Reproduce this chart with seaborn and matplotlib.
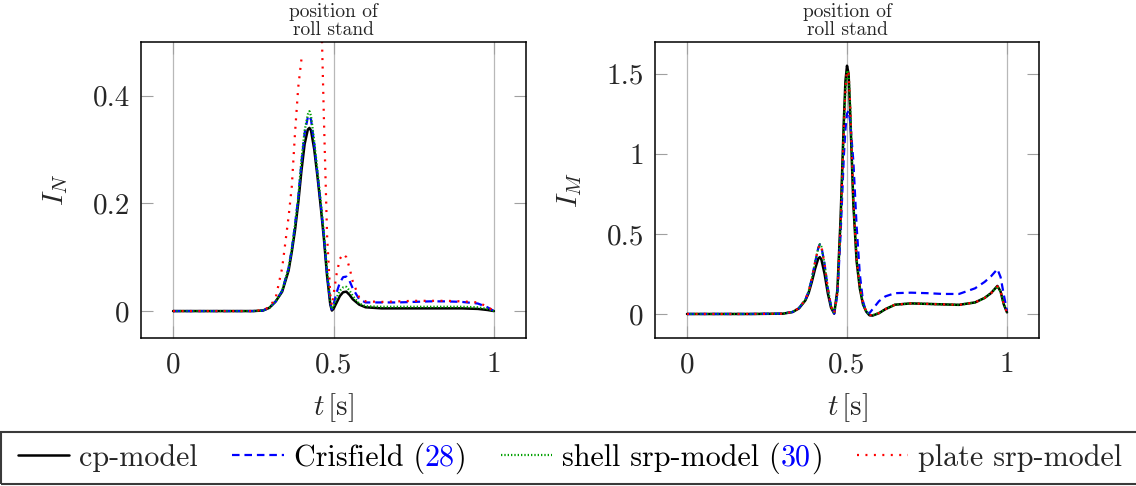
import numpy as np
import pandas as pd
import matplotlib
matplotlib.use("Agg")
import matplotlib.pyplot as plt
from matplotlib.lines import Line2D
from matplotlib.patches import Rectangle
import seaborn as sns

# ---------------- data ----------------
nan = np.nan
t_N = [0.00, 0.10, 0.20, 0.25, 0.28, 0.30, 0.32, 0.34, 0.36, 0.37, 0.38, 0.39, 0.40,
       0.41, 0.42, 0.425, 0.43, 0.44, 0.45, 0.46, 0.47, 0.48, 0.49, 0.495, 0.50, 0.51,
       0.52, 0.53, 0.54, 0.55, 0.56, 0.58, 0.60, 0.65, 0.70, 0.75, 0.80, 0.85, 0.90,
       0.95, 0.98, 1.00]
cp_N = [0, 0, 0, 0, 0.001, 0.006, 0.018, 0.036, 0.075, 0.11, 0.15, 0.20, 0.26,
        0.31, 0.337, 0.34, 0.335, 0.30, 0.25, 0.195, 0.135, 0.065, 0.012, 0.001, 0.004, 0.016,
        0.028, 0.035, 0.036, 0.030, 0.022, 0.012, 0.007, 0.005, 0.005, 0.005, 0.005, 0.005, 0.005,
        0.004, 0.002, 0.0]
cris_N = [0, 0, 0, 0, 0.001, 0.006, 0.018, 0.038, 0.08, 0.115, 0.16, 0.21, 0.275,
          0.33, 0.36, 0.363, 0.355, 0.31, 0.255, 0.20, 0.14, 0.07, 0.015, 0.003, 0.012, 0.035,
          0.053, 0.063, 0.064, 0.056, 0.042, 0.022, 0.016, 0.016, 0.016, 0.017, 0.018, 0.018, 0.017,
          0.014, 0.007, 0.0]
shell_N = [0, 0, 0, 0, 0.001, 0.006, 0.018, 0.038, 0.08, 0.115, 0.16, 0.21, 0.28,
           0.335, 0.365, 0.371, 0.362, 0.315, 0.26, 0.205, 0.145, 0.075, 0.018, 0.004, 0.008, 0.025,
           0.038, 0.044, 0.045, 0.038, 0.028, 0.014, 0.009, 0.008, 0.008, 0.008, 0.008, 0.008, 0.008,
           0.007, 0.004, 0.0]
plate_N = [0, 0, 0, 0, 0.002, 0.007, 0.025, 0.08, 0.175, 0.231, 0.33, 0.415, 0.467,
           nan, nan, nan, nan, nan, nan, 0.60, 0.36, 0.14, 0.03, 0.01, 0.03, 0.07,
           0.097, 0.106, 0.10, 0.08, 0.055, 0.025, 0.018, 0.017, 0.018, 0.019, 0.019, 0.019, 0.018,
           0.016, 0.008, 0.0]

t_M = [0.00, 0.10, 0.20, 0.30, 0.33, 0.35, 0.37, 0.38, 0.39, 0.40, 0.41, 0.415, 0.42,
       0.43, 0.44, 0.45, 0.46, 0.47, 0.48, 0.49, 0.495, 0.50, 0.505, 0.51, 0.52, 0.53,
       0.54, 0.55, 0.56, 0.57, 0.58, 0.60, 0.62, 0.65, 0.70, 0.75, 0.80, 0.85, 0.90,
       0.93, 0.95, 0.97, 0.98, 0.99, 1.00]
cp_M = [0, 0, 0, 0.002, 0.012, 0.035, 0.085, 0.13, 0.20, 0.28, 0.345, 0.355, 0.34,
        0.25, 0.13, 0.04, 0.002, 0.15, 0.60, 1.20, 1.45, 1.55, 1.50, 1.25, 0.68, 0.33,
        0.16, 0.06, 0.015, -0.008, -0.01, 0.005, 0.03, 0.058, 0.066, 0.063, 0.060, 0.057, 0.072,
        0.10, 0.13, 0.175, 0.14, 0.06, 0.01]
cris_M = [0, 0, 0, 0.002, 0.013, 0.037, 0.09, 0.14, 0.22, 0.32, 0.41, 0.435, 0.42,
          0.31, 0.16, 0.05, 0.003, 0.12, 0.50, 0.98, 1.15, 1.25, 1.27, 1.20, 0.95, 0.55,
          0.25, 0.08, 0.01, 0.005, 0.03, 0.08, 0.11, 0.13, 0.133, 0.13, 0.125, 0.125, 0.16,
          0.20, 0.235, 0.28, 0.23, 0.12, 0.02]
shell_M = [0, 0, 0, 0.002, 0.013, 0.037, 0.09, 0.14, 0.22, 0.32, 0.41, 0.435, 0.42,
           0.31, 0.16, 0.05, 0.003, 0.13, 0.56, 1.15, 1.40, 1.52, 1.50, 1.30, 0.70, 0.35,
           0.17, 0.065, 0.017, -0.006, -0.008, 0.006, 0.03, 0.058, 0.066, 0.063, 0.060, 0.057, 0.072,
           0.10, 0.13, 0.172, 0.14, 0.06, 0.01]
plate_M = [0, 0, 0, 0.002, 0.013, 0.037, 0.09, 0.14, 0.22, 0.32, 0.41, 0.435, 0.42,
           0.31, 0.16, 0.05, 0.003, 0.13, 0.56, 1.15, 1.40, 1.52, 1.50, 1.30, 0.70, 0.35,
           0.17, 0.065, 0.017, -0.006, -0.008, 0.006, 0.03, 0.058, 0.066, 0.063, 0.060, 0.057, 0.072,
           0.10, 0.13, 0.172, 0.14, 0.06, 0.01]

legend_labels = ["cp-model", "Crisfield", "shell srp-model", "plate srp-model"]
legend_refs = [None, "28", "30", None]
x_ticks = [0, 0.5, 1]
x_ticklabels = ["0", "0.5", "1"]
yN_ticks = [0, 0.2, 0.4]
yN_ticklabels = ["0", "0.2", "0.4"]
yM_ticks = [0, 0.5, 1, 1.5]
yM_ticklabels = ["0", "0.5", "1", "1.5"]
annot_text = "position of\nroll stand"

# ---------------- style ----------------
sns.set_theme(style="white")
plt.rcParams.update({
    "font.family": ["cmr10", "DejaVu Serif"],
    "mathtext.fontset": "cm",
    "axes.formatter.use_mathtext": True,
    "axes.unicode_minus": False,
})

colors = ["black", "#0000ff", "#00a000", "#ff0000"]
lw = 1.6
styles = ["-", (0, (3.4, 2.2)), (0, (0.6, 0.9)), (0, (0.9, 2.9))]

fig = plt.figure(figsize=(11.36, 4.86), dpi=100)
W, H = 1136, 486
ax1 = fig.add_axes([141 / W, 1 - 338 / H, (526 - 141) / W, (338 - 41.7) / H])
ax2 = fig.add_axes([655 / W, 1 - 338 / H, (1039 - 655) / W, (338 - 41.7) / H])


def draw_series(ax, t, vals, color, ls, width):
    v = np.asarray(vals, dtype=float)
    seg = np.cumsum(np.isnan(v))
    df = pd.DataFrame({"t": t, "v": v, "seg": seg}).dropna()
    sns.lineplot(data=df, x="t", y="v", units="seg", estimator=None, sort=False,
                 color=color, linewidth=width, linestyle=ls, ax=ax, legend=False)


widths = [1.8, lw, lw, lw]
for ax, t, series in [(ax1, t_N, [cp_N, cris_N, shell_N, plate_N]),
                      (ax2, t_M, [cp_M, cris_M, shell_M, plate_M])]:
    for vals, c, ls, w in zip(series, colors, styles, widths):
        draw_series(ax, t, vals, c, ls, w)

for ax, yt, ytl, ylim, ylab in [(ax1, yN_ticks, yN_ticklabels, (-0.05, 0.5), r"$I_N$"),
                                (ax2, yM_ticks, yM_ticklabels, (-0.15, 1.7), r"$I_M$")]:
    ax.set_xlim(-0.1, 1.1)
    ax.set_ylim(*ylim)
    ax.set_xticks(x_ticks)
    ax.set_xticklabels(x_ticklabels)
    ax.set_yticks(yt)
    ax.set_yticklabels(ytl)
    ax.tick_params(axis="both", direction="in", length=8.6, width=0.8, color="#a0a0a0",
                   labelsize=21, pad=8, top=True, right=True, left=True, bottom=True)
    ax.tick_params(axis="x", pad=10)
    ax.grid(axis="x", color="#b8b8b8", linewidth=0.9)
    ax.grid(axis="y", visible=False)
    for s in ax.spines.values():
        s.set_color("black")
        s.set_linewidth(1.1)
    ax.set_xlabel(r"$t\,[\mathrm{s}]$", fontsize=21)
    ax.set_ylabel(ylab, fontsize=21)
    ax.yaxis.set_label_coords(-0.185, 0.5)
    ax.xaxis.set_label_coords(0.5, -0.18)
    ax.annotate(annot_text, xy=(0.5, 1.0), xycoords=("data", "axes fraction"),
                xytext=(0, 2), textcoords="offset points", ha="center", va="bottom",
                fontsize=14, linespacing=1.0)

# legend frame drawn as a rectangle spanning the full width
fig.patches.append(Rectangle((1 / W, 2 / H), 1150 / W, 52 / H, transform=fig.transFigure,
                             fill=False, edgecolor="#3a3a3a", linewidth=1.5, zorder=4))

handles = [Line2D([], [], color=c, lw=w, linestyle=ls) for c, ls, w in zip(colors, styles, widths)]
full_labels = [lab if ref is None else f"{lab} ({ref})" for lab, ref in zip(legend_labels, legend_refs)]
leg = fig.legend(handles, full_labels, loc="center left", bbox_to_anchor=(18 / W, 1 - 458 / H),
                 ncol=4, fontsize=21.7, frameon=False, borderpad=0, handlelength=1.7,
                 handletextpad=0.33, columnspacing=1.15, borderaxespad=0)

# colour the reference numbers blue
fig.canvas.draw()
renderer = fig.canvas.get_renderer()
for txt, lab, ref in zip(leg.get_texts(), legend_labels, legend_refs):
    if ref is None:
        continue
    prop = txt.get_fontproperties()
    full = txt.get_text()
    xd, yd = txt.get_transform().transform(txt.get_position())
    wfull, _, _ = renderer.get_text_width_height_descent(full, prop, ismath=False)
    wnum, _, _ = renderer.get_text_width_height_descent(f"{lab} ({ref}", prop, ismath=False)
    txt.set_alpha(0)
    kw = dict(transform=None, fontproperties=prop, va="baseline", zorder=20)
    fig.text(xd, yd, f"{lab} (", color="black", ha="left", **kw)
    fig.text(xd + wnum, yd, ref, color="#0000ff", ha="right", **kw)
    fig.text(xd + wfull, yd, ")", color="black", ha="right", **kw)

fig.savefig("out.png", dpi=100)
